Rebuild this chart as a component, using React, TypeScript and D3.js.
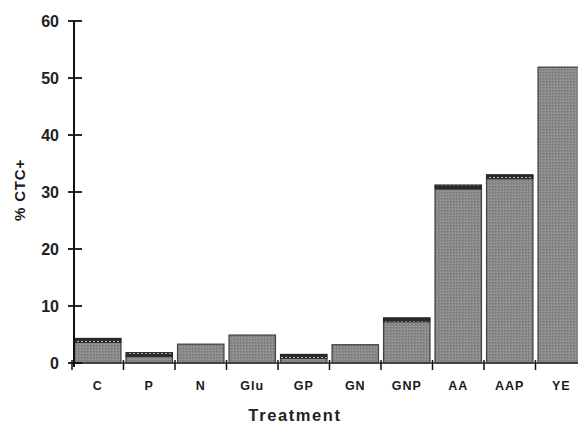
import React from 'react'
import * as d3 from 'd3'

// treatments and % CTC+
const categories = ['C', 'P', 'N', 'Glu', 'GP', 'GN', 'GNP', 'AA', 'AAP', 'YE']
const values = [4.3, 1.8, 3.3, 4.9, 1.5, 3.2, 7.9, 31.2, 33, 51.9]
const yTicks = [0, 10, 20, 30, 40, 50, 60]
// bars whose top carries the darker hatched cap
const capped = ['C', 'P', 'GP', 'GNP', 'AA', 'AAP']

const width = 578
const height = 424
const font = '"Liberation Sans", Arial, Helvetica, sans-serif'

const App = () => {
  const x = d3.scaleBand<string>()
    .domain(categories)
    .range([72, 587])
    .paddingInner(0.1)
    .paddingOuter(0.05)
  const y = d3.scaleLinear().domain([0, 60]).range([363, 21])
  const step = x.step()
  const gap = step * x.paddingInner()

  return (
    <svg width={width} height={height} style={{ position: 'absolute', left: 0, top: 0, background: '#fff' }}>
      <defs>
        <pattern id="grain" width="3" height="3" patternUnits="userSpaceOnUse">
          <rect width="3" height="3" fill="#8a8a8a" />
          <rect width="1" height="1" fill="#737373" />
          <rect x="2" y="2" width="1" height="1" fill="#9e9e9e" />
        </pattern>
        <pattern id="hatch" width="4" height="4" patternUnits="userSpaceOnUse">
          <rect width="4" height="4" fill="#2a2a2a" />
          <rect x="1" y="1" width="2" height="1" fill="#bdbdbd" />
        </pattern>
      </defs>

      {/* bars */}
      {categories.map((c, i) => {
        const bx = x(c) as number
        const by = y(values[i])
        const bh = y(0) - by
        return (
          <g key={c}>
            <rect x={bx} y={by} width={x.bandwidth()} height={bh}
              fill="url(#grain)" stroke="#444" strokeWidth={1.3} />
            {capped.includes(c) && (
              <rect x={bx} y={by} width={x.bandwidth()} height={Math.min(4, bh)}
                fill="url(#hatch)" stroke="#222" strokeWidth={0.8} />
            )}
          </g>
        )
      })}

      {/* x axis */}
      <line x1={72} x2={width} y1={y(0)} y2={y(0)} stroke="#333" strokeWidth={1.5} />
      {categories.map((c) => (
        <g key={'t' + c}>
          <line x1={(x(c) as number) - gap / 2} x2={(x(c) as number) - gap / 2}
            y1={y(0) - 3} y2={y(0) + 7} stroke="#111" strokeWidth={1.5} />
          <text x={(x(c) as number) + x.bandwidth() / 2} y={390} textAnchor="middle"
            fontFamily={font} fontSize={12.5} fontWeight="bold" letterSpacing={1} fill="#1a1a1a">{c}</text>
        </g>
      ))}

      {/* y axis */}
      <line x1={74} x2={74} y1={y(60)} y2={y(0) + 4} stroke="#111" strokeWidth={2} />
      {yTicks.map((t) => (
        <g key={'y' + t}>
          <line x1={68} x2={82} y1={y(t)} y2={y(t)} stroke="#111" strokeWidth={1.8} />
          <text x={59} y={y(t) + 6} textAnchor="end" fontFamily={font} fontSize={16}
            fontWeight="bold" fill="#222">{t}</text>
        </g>
      ))}

      <text transform={`translate(25,190) rotate(-90)`} textAnchor="middle"
        fontFamily={font} fontSize={15} fontWeight="bold" fill="#1a1a1a" letterSpacing={0.8}>% CTC+</text>
      <text x={295} y={421} textAnchor="middle" fontFamily={font} fontSize={16.5}
        fontWeight="bold" fill="#222" letterSpacing={1.6}>Treatment</text>
    </svg>
  )
}

export default App
